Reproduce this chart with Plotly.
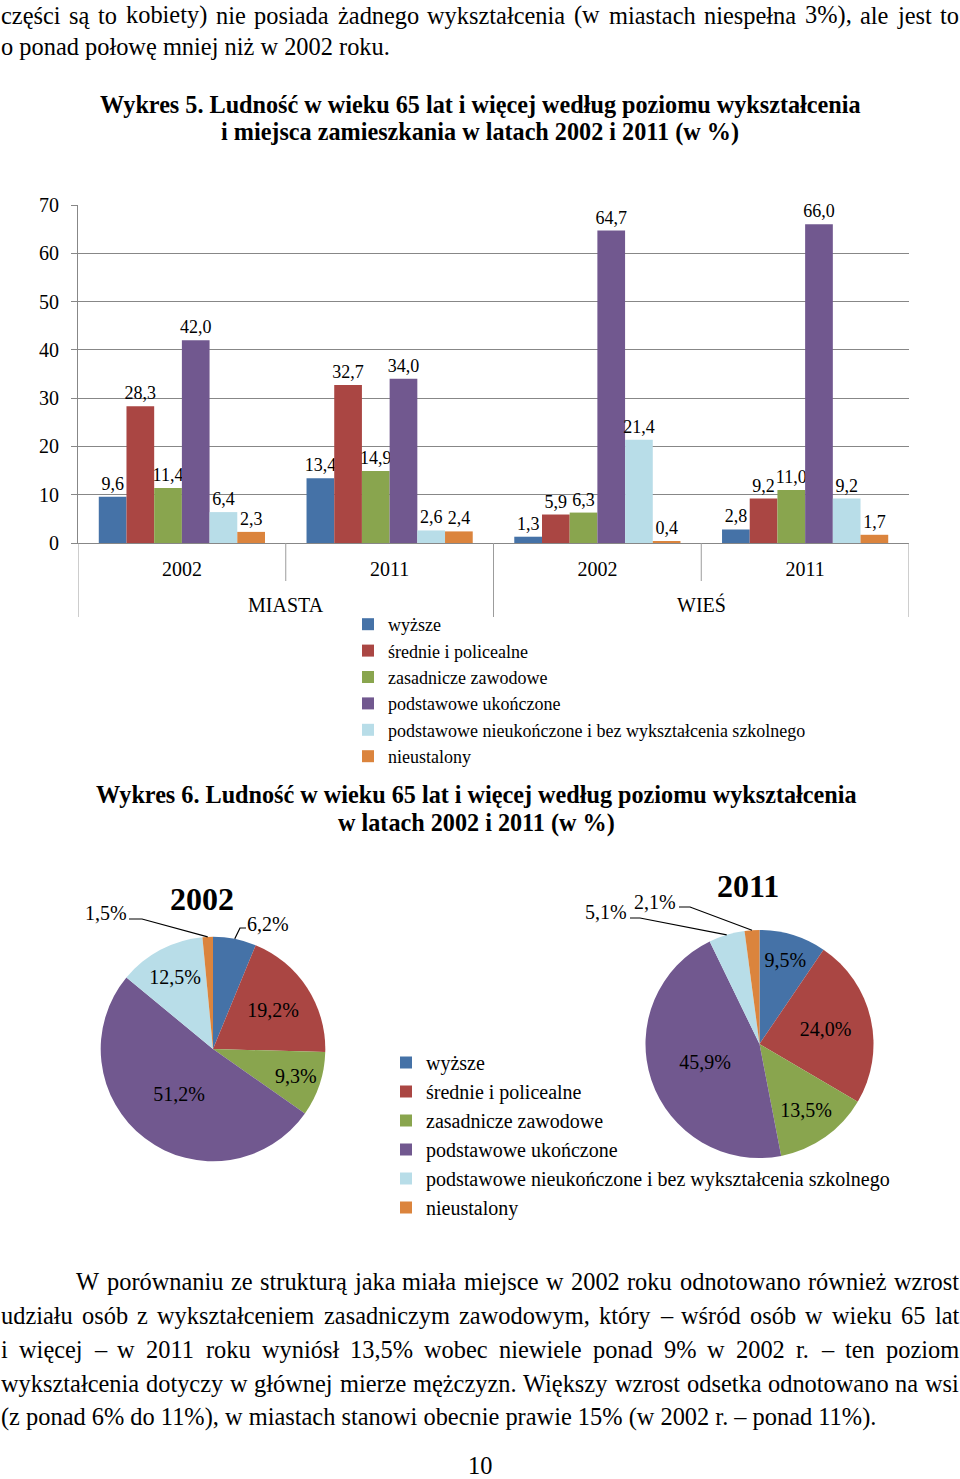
import math
import plotly.graph_objects as go

# ---------------- data ----------------
places = ["MIASTA", "WIEŚ"]
years = ["2002", "2011"]
series = [
    "wyższe",
    "średnie i policealne",
    "zasadnicze zawodowe",
    "podstawowe ukończone",
    "podstawowe nieukończone i bez wykształcenia szkolnego",
    "nieustalony",
]
# bar chart values: MIASTA 2002, MIASTA 2011, WIEŚ 2002, WIEŚ 2011
v_wyzsze = [9.6, 13.4, 1.3, 2.8]
v_srednie = [28.3, 32.7, 5.9, 9.2]
v_zasadnicze = [11.4, 14.9, 6.3, 11.0]
v_podst_ukon = [42.0, 34.0, 64.7, 66.0]
v_podst_nieukon = [6.4, 2.6, 21.4, 9.2]
v_nieustalony = [2.3, 2.4, 0.4, 1.7]
# pie values (%)
pie_2002 = [6.2, 19.2, 9.3, 51.2, 12.5, 1.5]
pie_2011 = [9.5, 24.0, 13.5, 45.9, 5.1, 2.1]
y_ticks = [0, 10, 20, 30, 40, 50, 60, 70]

colors = ["#4572A7", "#AA4643", "#89A54E", "#71588F", "#B8DDE8", "#DB843D"]
GRID = "#878787"
DIV = "#9C9C9C"
SERIF = "Liberation Serif"

W, H = 960, 1479
def px(x):
    return x / W
def py(y):
    return 1 - y / H

fig = go.Figure()

# ---------------- bar chart ----------------
bar_values = [v_wyzsze, v_srednie, v_zasadnicze, v_podst_ukon, v_podst_nieukon, v_nieustalony]
cats = [(p, y) for p in places for y in years]
xcat = list(range(len(cats)))
for name, vals, col in zip(series, bar_values, colors):
    fig.add_trace(go.Bar(
        x=xcat, y=vals, name=name,
        marker=dict(color=col, line=dict(width=0)),
        texttemplate="%{y:.1f}", textposition="outside", constraintext="none",
        cliponaxis=False,
        textfont=dict(family=SERIF, size=18, color="black"),
        legend="legend", hoverinfo="skip",
    ))

# ---------------- pies ----------------
pie_geo = {"2002": (213, 1049, 112.3), "2011": (759.5, 1044, 114)}
def pie_domain(cx, cy, r):
    return dict(x=[px(cx - r), px(cx + r)], y=[py(cy + r), py(cy - r)])

def text_pos(vals):
    return ["none" if v < 7 else "inside" for v in vals]

for yr, vals in (("2002", pie_2002), ("2011", pie_2011)):
    cx, cy, r = pie_geo[yr]
    fig.add_trace(go.Pie(
        labels=series, values=vals, sort=False, direction="clockwise", rotation=0,
        domain=pie_domain(cx, cy, r),
        marker=dict(colors=colors, line=dict(width=0)),
        texttemplate="%{value:.1f}%", textposition=text_pos(vals),
        insidetextorientation="horizontal",
        insidetextfont=dict(family=SERIF, size=20, color="black"),
        legend="legend2", hoverinfo="skip", showlegend=True,
    ))

def rim_point(vals, idx, cx, cy, r):
    tot = sum(vals)
    mid = (sum(vals[:idx]) + vals[idx] / 2) / tot * 2 * math.pi
    return cx + r * math.sin(mid), cy - r * math.cos(mid)

def fmt(v):
    return f"{v:.1f}".replace(".", ",") + "%"

def text_ann(text, x, y, size, xanchor="center", yanchor="middle", xref="paper"):
    return dict(text=text, x=x, y=y, xref=xref, yref="paper", xanchor=xanchor, yanchor=yanchor,
                showarrow=False, borderpad=0, font=dict(family=SERIF, size=size, color="black"))

# outside labels: (pie, slice index, label centre, leader start, elbow)
outside = [
    ("2002", 5, (106, 913), (129, 919), (142, 919)),
    ("2002", 0, (268, 924), (246, 928), (240, 928)),
    ("2011", 4, (606, 912), (630, 918), (640, 918)),
    ("2011", 5, (655, 902), (679, 907), (690, 907)),
]
shapes = []
annotations = []
for yr, idx, (lx, ly), (sx, sy), (ex, ey) in outside:
    vals = pie_2002 if yr == "2002" else pie_2011
    cx, cy, r = pie_geo[yr]
    tx, ty = rim_point(vals, idx, cx, cy, r)
    path = f"M {px(sx)},{py(sy)} L {px(ex)},{py(ey)} L {px(tx)},{py(ty)}"
    shapes.append(dict(type="path", path=path, xref="paper", yref="paper",
                       line=dict(color="black", width=1.2)))
    annotations.append(text_ann(fmt(vals[idx]), px(lx), py(ly), 20))

# pie titles
annotations.append(text_ann("<b>2002</b>", px(201.5), py(899), 32))
annotations.append(text_ann("<b>2011</b>", px(748), py(886), 32))

# ---------------- category axis decorations ----------------
n_in = len(years)
for i in range(len(cats) + 1):
    outer = (i % n_in == 0)
    shapes.append(dict(type="line", xref="x", yref="paper", x0=i - 0.5, x1=i - 0.5,
                       y0=py(543), y1=py(617 if outer else 581),
                       line=dict(color=DIV, width=1)))
for j, p in enumerate(places):
    annotations.append(text_ann(p, j * n_in + (n_in - 1) / 2, py(605), 20, xref="x"))

# ---------------- page text ----------------
TW = {" ": 250, "(": 333, ")": 333, ",": 250, "-": 333, ".": 250, "%": 833, "–": 500, ":": 278,
      "A": 722, "B": 667, "C": 667, "D": 722, "E": 611, "F": 556, "G": 722, "H": 722, "I": 333,
      "J": 389, "K": 722, "L": 611, "M": 889, "N": 722, "O": 722, "P": 556, "R": 667, "S": 556,
      "T": 611, "U": 722, "W": 944, "Z": 611,
      "a": 444, "b": 500, "c": 444, "d": 500, "e": 444, "f": 333, "g": 500, "h": 500, "i": 278,
      "j": 278, "k": 500, "l": 278, "m": 778, "n": 500, "o": 500, "p": 500, "q": 500, "r": 333,
      "s": 389, "t": 278, "u": 500, "v": 500, "w": 722, "x": 500, "y": 500, "z": 444,
      "ą": 444, "ć": 444, "ę": 444, "ł": 278, "ń": 500, "ó": 500, "ś": 389, "ź": 444, "ż": 444}
BODY = 24.4

def tw(s, fs):
    return sum(TW.get(c, 500) for c in s) * fs / 1000

def add_line(text, x0, x1, yc, fs=BODY, justify=True):
    words = text.split(" ")
    if not justify or len(words) < 2:
        annotations.append(text_ann(text, px(x0), py(yc), fs, xanchor="left"))
        return
    widths = [tw(w, fs) for w in words]
    gap = (x1 - x0 - sum(widths)) / (len(words) - 1)
    x = x0
    for wd, wdt in zip(words, widths):
        annotations.append(text_ann(wd, px(x), py(yc), fs, xanchor="left"))
        x += wdt + gap

add_line("części są to kobiety) nie posiada żadnego wykształcenia (w miastach niespełna 3%), ale jest to", 0, 958, 15)
add_line("o ponad połowę mniej niż w 2002 roku.", 0, 958, 46, justify=False)

def add_center(text, xc, yc, fs=24.2, bold=True):
    annotations.append(text_ann(f"<b>{text}</b>" if bold else text, px(xc), py(yc), fs))

add_center("Wykres 5. Ludność w wieku 65 lat i więcej według poziomu wykształcenia", 480, 105)
add_center("i miejsca zamieszkania w latach 2002 i 2011 (w %)", 480, 132)
add_center("Wykres 6. Ludność w wieku 65 lat i więcej według poziomu wykształcenia", 476, 795)
add_center("w latach 2002 i 2011 (w %)", 476, 823)

add_line("W porównaniu ze strukturą jaka miała miejsce w 2002 roku odnotowano również wzrost", 75, 958, 1281)
add_line("udziału osób z wykształceniem zasadniczym zawodowym, który – wśród osób w wieku 65 lat", 0, 958, 1315)
add_line("i więcej – w 2011 roku wyniósł 13,5% wobec niewiele ponad 9% w 2002 r. – ten poziom", 0, 958, 1349)
add_line("wykształcenia dotyczy w głównej mierze mężczyzn. Większy wzrost odsetka odnotowano na wsi", 0, 958, 1383)
add_line("(z ponad 6% do 11%), w miastach stanowi obecnie prawie 15% (w 2002 r. – ponad 11%).", 0, 958, 1417, justify=False)
add_center("10", 480, 1465, fs=BODY, bold=False)

# ---------------- layout ----------------
fig.update_layout(
    width=W, height=H, margin=dict(l=0, r=0, t=0, b=0, pad=0, autoexpand=False),
    paper_bgcolor="white", plot_bgcolor="white",
    separators=", ",
    barmode="group", bargap=0.2, bargroupgap=0,
    font=dict(family=SERIF, color="black"),
    xaxis=dict(domain=[px(78), px(909)], range=[-0.5, len(cats) - 0.5],
               tickvals=xcat, ticktext=[c[1] for c in cats], ticks="",
               showline=True, linecolor=GRID, linewidth=1, showgrid=False, zeroline=False,
               tickfont=dict(family=SERIF, size=20, color="black"), ticklabelstandoff=8,
               fixedrange=True, automargin=False),
    yaxis=dict(domain=[py(543), py(205)], range=[0, 70], tickvals=y_ticks,
               showgrid=True, gridcolor=GRID, gridwidth=1,
               ticks="outside", ticklen=6, tickcolor=GRID,
               showline=True, linecolor=GRID, linewidth=1, zeroline=False,
               tickfont=dict(family=SERIF, size=20, color="black"), ticklabelstandoff=8,
               fixedrange=True, automargin=False),
    legend=dict(x=px(348), xanchor="left", y=py(606), yanchor="top",
                font=dict(family=SERIF, size=18, color="black"),
                bgcolor="rgba(0,0,0,0)", tracegroupgap=0),
    legend2=dict(x=px(386), xanchor="left", y=py(1043), yanchor="top",
                 font=dict(family=SERIF, size=20, color="black"),
                 bgcolor="rgba(0,0,0,0)", tracegroupgap=0),
    shapes=shapes,
    annotations=annotations,
    showlegend=True,
)

fig.write_html("out.html", config={"displayModeBar": False},
               post_script="document.body.style.margin='0';")
